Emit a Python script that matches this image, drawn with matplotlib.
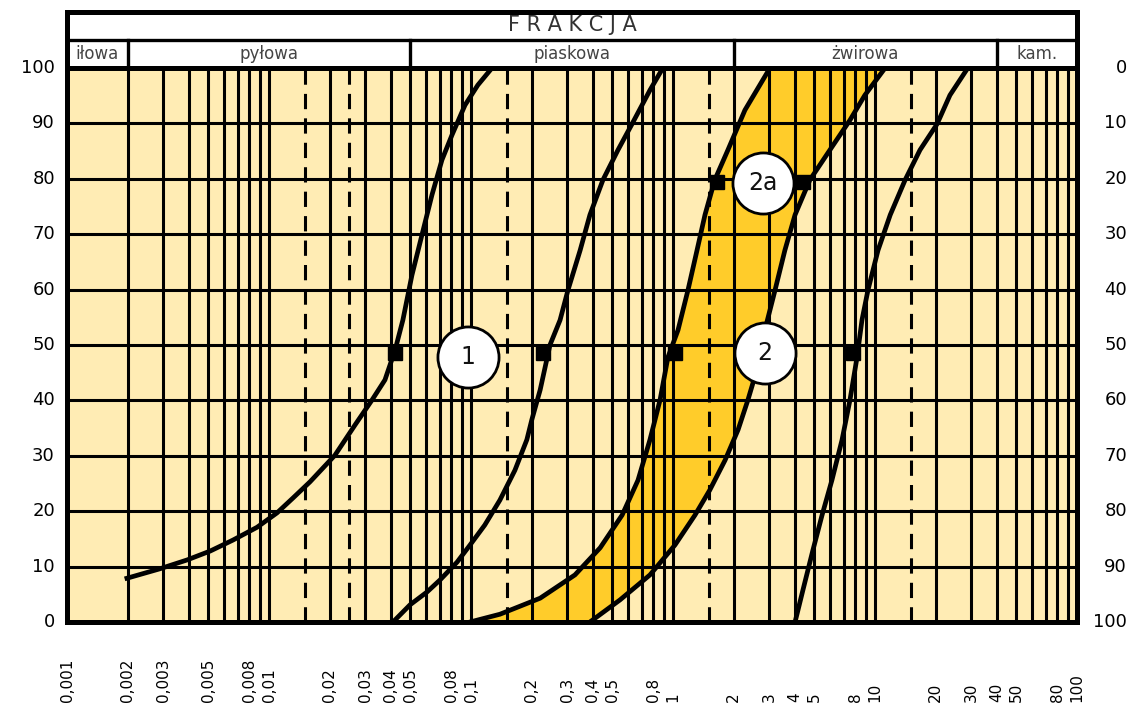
import numpy as np
import matplotlib
matplotlib.use("Agg")
import matplotlib.pyplot as plt
from matplotlib.transforms import blended_transform_factory

# ---------------- Data (grain size [mm], % passing) ----------------
# curve 1 left (A) and right (B)
a_x = [0.00198, 0.00288, 0.00393, 0.00511, 0.00664, 0.00873, 0.01096, 0.01316,
       0.01596, 0.0212, 0.0267, 0.0324, 0.0375, 0.0421, 0.0460, 0.0510, 0.0572,
       0.0641, 0.0718, 0.0805, 0.0934, 0.108, 0.127]
a_y = [7.9, 9.6, 11.2, 12.8, 14.8, 17.1, 19.7, 22.4, 25.3, 30.1, 35.6, 40.1, 43.7,
       49.1, 54.5, 62.6, 69.9, 77.1, 83.4, 87.9, 93.3, 96.9, 100]

b_x = [0.0411, 0.0499, 0.0605, 0.0703, 0.0853, 0.0989, 0.117, 0.139, 0.165, 0.189,
       0.200, 0.220, 0.246, 0.276, 0.302, 0.347, 0.388, 0.450, 0.534, 0.627, 0.769, 0.891]
b_y = [0, 3.1, 5.4, 7.6, 10.8, 13.9, 17.5, 22.0, 27.4, 32.9, 36.5, 41.9, 50.0, 54.5,
       59.9, 67.1, 73.5, 79.8, 85.2, 89.9, 96.0, 100]

# band 2a: left edge (C) and right edge (D)
c_x = [0.0989, 0.139, 0.220, 0.327, 0.436, 0.560, 0.671, 0.769, 0.863, 0.944,
       1.059, 1.186, 1.315, 1.44, 1.61, 1.87, 2.27, 3.02]
c_y = [0, 1.4, 4.3, 8.5, 13.4, 19.3, 25.6, 32.9, 40.1, 47.8, 52.7, 59.9, 67.1,
       73.5, 79.8, 85.2, 92.4, 100]

d_x = [0.388, 0.547, 0.769, 1.023, 1.285, 1.52, 1.81, 2.10, 2.35, 2.60, 2.85,
       3.20, 3.58, 4.02, 4.76, 5.98, 7.52, 8.91, 11.22]
d_y = [0, 4.0, 8.5, 13.9, 19.3, 23.8, 29.2, 34.7, 40.1, 45.5, 52.7, 59.9, 67.1,
       73.5, 79.8, 85.2, 90.6, 95.1, 100]

# curve 2 right (E)
e_x = [4.02, 4.40, 4.93, 5.47, 6.12, 6.87, 7.52, 8.15, 8.62, 9.23, 10.35, 11.9,
       14.1, 16.7, 20.3, 23.5, 28.8]
e_y = [0, 5.8, 13.0, 19.3, 25.6, 32.9, 40.1, 47.8, 54.5, 59.9, 67.1, 73.5, 79.8,
       85.2, 89.9, 95.1, 100]

# range markers and circle labels: (marker x, marker y, circle x, circle y)
marks = {"1": ([0.042, 0.227], 48.5, 0.0966, 47.8),
         "2": ([1.02, 7.78], 48.5, 2.85, 48.6),
         "2a": ([1.65, 4.40], 79.5, 2.79, 79.2)}

# axis labels
x_ticks = [0.001, 0.002, 0.003, 0.005, 0.008, 0.01, 0.02, 0.03, 0.04, 0.05, 0.08,
           0.1, 0.2, 0.3, 0.4, 0.5, 0.8, 1, 2, 3, 4, 5, 8, 10, 20, 30, 40, 50, 80, 100]
x_labels = ["0,001", "0,002", "0,003", "0,005", "0,008", "0,01", "0,02", "0,03",
            "0,04", "0,05", "0,08", "0,1", "0,2", "0,3", "0,4", "0,5", "0,8", "1",
            "2", "3", "4", "5", "8", "10", "20", "30", "40", "50", "80", "100"]
y_ticks = list(range(0, 101, 10))
dashed_x = [0.015, 0.025, 0.15, 1.5, 15]

# fractions header
frac_edges = [0.001, 0.002, 0.05, 2, 40, 100]
frac_names = ["iłowa", "pyłowa", "piaskowa", "żwirowa", "kam."]

cream = "#FFECB4"
gold = "#FFCC2A"

# ---------------- Figure ----------------
fig = plt.figure(figsize=(11.31, 7.04), dpi=100)
W, H = 1131, 704
L, R, T, B = 67, 1077, 68, 622
ax = fig.add_axes([L / W, 1 - B / H, (R - L) / W, (B - T) / H])
hx = fig.add_axes([L / W, 1 - T / H, (R - L) / W, (T - 12) / H])

ax.set_facecolor(cream)
ax.set_xscale("log")
ax.set_xlim(0.001, 100)
ax.set_ylim(0, 100)

# grid
for dec in [0.001, 0.01, 0.1, 1, 10]:
    for k in range(1, 10):
        ax.axvline(dec * k, color="black", lw=2.2, zorder=2)
for xv in dashed_x:
    ax.axvline(xv, color="black", lw=2.2, ls=(0, (5, 3)), zorder=2)
for yv in y_ticks:
    ax.axhline(yv, color="black", lw=2.2, zorder=2)

# band
ax.fill(np.r_[c_x, d_x[::-1]], np.r_[c_y, d_y[::-1]], color=gold, zorder=1, lw=0)

# curves
for xs, ys in [(a_x, a_y), (b_x, b_y), (c_x, c_y), (d_x, d_y), (e_x, e_y)]:
    ax.plot(xs, ys, color="black", lw=3.4, zorder=3, solid_joinstyle="round")

# markers and circled labels
for lab, (mx, my, cx, cy) in marks.items():
    ax.plot(mx, [my, my], ls="none", marker="s", ms=10, color="black", zorder=4)
    ax.plot([cx], [cy], marker="o", ms=44, mfc="white", mec="black", mew=2,
            zorder=5, clip_on=False)
    ax.text(cx, cy, lab, ha="center", va="center", fontsize=17, zorder=6,
            color="#111111")

ax.set_xticks([])
ax.set_yticks([])
ax.minorticks_off()
for s in ax.spines.values():
    s.set_linewidth(3.6)

# y labels (left: passing, right: retained)
ytr = blended_transform_factory(ax.transAxes, ax.transData)
for yv in y_ticks:
    ax.text(-0.012, yv, str(yv), transform=ytr, ha="right", va="center", fontsize=13)
    ax.text(1.0495, yv, str(100 - yv), transform=ytr, ha="right", va="center", fontsize=13)

# x labels, rotated
xtr = blended_transform_factory(ax.transData, ax.transAxes)
for xv, lab in zip(x_ticks, x_labels):
    ax.text(xv, -0.145, lab, transform=xtr, rotation=90, ha="center", va="bottom",
            fontsize=11)

# ---------------- Header ----------------
hx.set_xscale("log")
hx.set_xlim(0.001, 100)
hx.set_ylim(0, 1)
hx.set_xticks([])
hx.set_yticks([])
hx.minorticks_off()
for s in hx.spines.values():
    s.set_linewidth(3.6)
hx.axhline(0.5, color="black", lw=2.4)
for xv in frac_edges[1:-1]:
    hx.plot([xv, xv], [0, 0.5], color="black", lw=2.4)
hx.text(0.5, 0.76, "F R A K C J A", transform=hx.transAxes, ha="center", va="center",
        fontsize=15, color="#333333")
for i, name in enumerate(frac_names):
    xm = np.sqrt(frac_edges[i] * frac_edges[i + 1])
    hx.text(xm, 0.25, name, ha="center", va="center", fontsize=12, color="#444444")

fig.savefig("out.png", dpi=100)
